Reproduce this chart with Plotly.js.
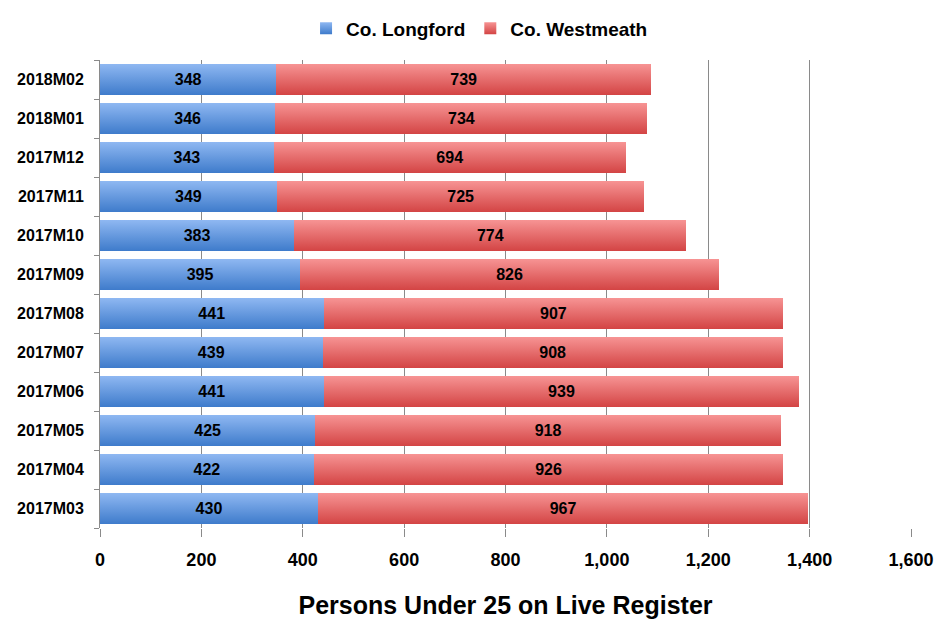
<!DOCTYPE html>
<html>
<head>
<meta charset="utf-8">
<script src="https://cdn.plot.ly/plotly-3.0.1.min.js"></script>
<style>html,body{margin:0;padding:0;background:#fff;}#chart{width:938px;height:621px;}</style>
</head>
<body>
<div id="chart"></div>
<script>
const categories = ['2017M03','2017M04','2017M05','2017M06','2017M07','2017M08','2017M09','2017M10','2017M11','2017M12','2018M01','2018M02'];
const longford = [430,422,425,441,439,441,395,383,349,343,346,348];
const westmeath = [967,926,918,939,908,907,826,774,725,694,734,739];
const xTicks = [0,200,400,600,800,1000,1200,1400,1600];
const xTickLabels = ['0','200','400','600','800','1,000','1,200','1,400','1,600'];

const FONT = '"Liberation Sans", Arial, sans-serif';

const traces = [
  {type:'bar', orientation:'h', name:'Co. Longford', y:categories, x:longford,
   text:longford.map(String), textposition:'inside', insidetextanchor:'middle',
   textfont:{family:FONT, size:16, color:'#000', weight:'bold'},
   marker:{color:'#6398e0', line:{width:0}}},
  {type:'bar', orientation:'h', name:'Co. Westmeath', y:categories, x:westmeath,
   text:westmeath.map(String), textposition:'inside', insidetextanchor:'middle',
   textfont:{family:FONT, size:16, color:'#000', weight:'bold'},
   marker:{color:'#e56a6a', line:{width:0}}}
];

const layout = {
  width:938, height:621,
  margin:{l:100, r:27, t:60, b:93},
  barmode:'stack', bargap:0.2,
  paper_bgcolor:'#fff', plot_bgcolor:'#fff',
  font:{family:FONT, color:'#000', weight:'bold'},
  showlegend:true,
  legend:{orientation:'h', x:0.468, xanchor:'center', y:0.985, yanchor:'top', yref:'container',
          font:{family:FONT, size:19, weight:'bold'}, traceorder:'normal'},
  xaxis:{range:[0,1600], tickvals:xTicks, ticktext:xTickLabels, showgrid:true, gridcolor:'#8a8a8a', gridwidth:1,
         zeroline:false, showline:false, ticks:'outside', ticklen:8, tickcolor:'#8a8a8a',
         tickfont:{family:FONT, size:18, weight:'bold'}, ticklabelstandoff:7,
         title:{text:'Persons Under 25 on Live Register', font:{family:FONT, size:25, weight:'bold'}, standoff:27}},
  yaxis:{type:'category', showline:true, linecolor:'#8a8a8a', linewidth:1, ticks:'outside', tickson:'boundaries',
         ticklen:5, tickcolor:'#8a8a8a', showgrid:false, zeroline:false,
         tickfont:{family:FONT, size:16, weight:'bold'}, ticklabelstandoff:12}
};

Plotly.newPlot('chart', traces, layout, {displayModeBar:false, staticPlot:true}).then(function(gd){
  const svg = gd.querySelector('svg.main-svg');
  const ns = 'http://www.w3.org/2000/svg';
  let defs = svg.querySelector('defs');
  if(!defs){defs=document.createElementNS(ns,'defs');svg.insertBefore(defs,svg.firstChild);}
  function grad(id, c1, c2){
    const g=document.createElementNS(ns,'linearGradient');
    g.setAttribute('id',id);g.setAttribute('x1','0');g.setAttribute('y1','0');g.setAttribute('x2','0');g.setAttribute('y2','1');
    [[0,c1],[1,c2]].forEach(function(s){const st=document.createElementNS(ns,'stop');st.setAttribute('offset',s[0]);st.setAttribute('stop-color',s[1]);g.appendChild(st);});
    defs.appendChild(g);
  }
  grad('gblue','#8fb8f2','#3e7bcb');
  grad('gred','#f79494','#d34444');
  const ids = ['gblue','gred'];
  gd.querySelectorAll('.barlayer .trace').forEach(function(t,i){
    t.querySelectorAll('.point path').forEach(function(p){p.style.fill='url(#'+ids[i]+')';});
  });
  gd.querySelectorAll('.legend .traces').forEach(function(t,i){
    t.querySelectorAll('.legendpoints path').forEach(function(p){p.style.fill='url(#'+ids[i]+')';});
  });
});
</script>
</body>
</html>
